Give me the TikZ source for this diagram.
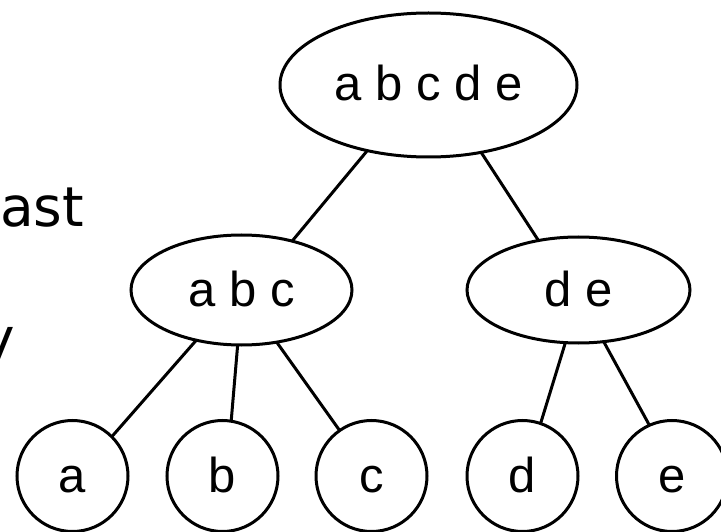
\documentclass[tikz,border=0pt]{standalone}
\usepackage{fontspec}
\setmainfont{Liberation Sans}
\newfontfamily\slidefont{DejaVu Sans}
\usetikzlibrary{shapes.geometric}
\begin{document}
\begin{tikzpicture}[x=1pt,y=-1pt,
  every node/.style={inner sep=0pt, outer sep=0pt},
  lbl/.style={font=\fontsize{49}{50}\selectfont, text height=32pt, text depth=0pt},
  ell/.style={draw, ellipse, line width=3pt, lbl},
  leaf/.style={draw, circle, minimum size=111pt, line width=3pt, lbl},
  link/.style={line width=3pt},
  slide/.style={font=\slidefont\fontsize{55}{66}\selectfont, anchor=base west}]
\fill[white] (0,0) rectangle (721,532);
\useasboundingbox (0,0) rectangle (721,532);
% slide text (cut off at the left edge, as in the reference)
\node[slide] (t1) at (0,227) {ast};
\node[slide] (t2) at (-17,357) {y};
% tree
\node[ell, minimum width=297pt, minimum height=144pt] (r) at (428.5,85) {a b c d e};
\node[ell, minimum width=221pt, minimum height=110pt] (abc) at (241.5,290) {a b c};
\node[ell, minimum width=223pt, minimum height=106pt] (de) at (578.5,290) {d e};
\node[leaf] (a) at (72.5,476) {a};
\node[leaf] (b) at (222.5,476) {b};
\node[leaf] (c) at (371.5,476) {c};
\node[leaf] (d) at (522.5,476) {d};
\node[leaf] (e) at (672,476) {e};
\draw[link] (r.227.5) -- (abc.44.7);
\draw[link] (r.308.6) -- (de.129);
\draw[link] (abc.228) -- (a.45);
\draw[link] (abc.266) -- (b.81);
\draw[link] (abc.304) -- (c.125);
\draw[link] (de.256) -- (d.71);
\draw[link] (de.296) -- (e.114);
\end{tikzpicture}
\end{document}
